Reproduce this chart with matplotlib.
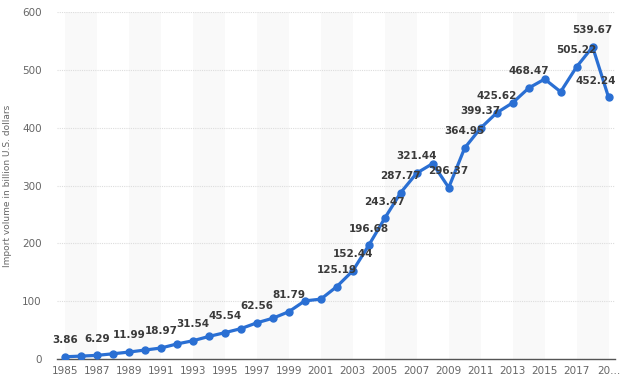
import matplotlib
matplotlib.use('Agg')
import matplotlib.pyplot as plt

YEARS = list(range(1985, 2020))
IMPORTS = [3.86, 5.0, 6.29, 9.0, 11.99, 15.5, 18.97, 26.0, 31.54, 39.0,
           45.54, 52.5, 62.56, 70.5, 81.79, 100.5, 103.5, 125.19, 152.44, 196.68,
           243.47, 287.77, 321.44, 338.0, 296.37, 364.95, 399.37, 425.62, 443.0, 468.47,
           484.0, 462.0, 505.22, 539.67, 452.24]
# years whose value is printed above the point
LABELLED = [1985, 1987, 1989, 1991, 1993, 1995, 1997, 1999, 2002, 2003, 2004,
            2005, 2006, 2007, 2009, 2010, 2011, 2012, 2014, 2017, 2018, 2019]
TICK_YEARS = list(range(1985, 2020, 2))
TICK_LABELS = [str(y) for y in TICK_YEARS[:-1]] + ['20...']

BLUE = '#2a6fd3'
GREY = '#666666'

fig = plt.figure(figsize=(6.25, 3.88), dpi=100)
ax = fig.add_axes([57 / 625, 1 - 359 / 388, 558 / 625, 347 / 388])

# alternating background columns
for start in range(1985, 2020, 4):
    ax.axvspan(start, start + 2, color='#f9f9f9', zorder=0, lw=0)

ax.plot(YEARS, IMPORTS, color=BLUE, lw=2.3, marker='o', ms=5, zorder=3)

for year, val in zip(YEARS, IMPORTS):
    if year not in LABELLED:
        continue
    dx = -9 if year == 2019 else 0
    ax.annotate(f'{val:.2f}', (year, val), xytext=(dx, 12), textcoords='offset points',
                ha='center', va='center', fontsize=7.5, fontweight='bold',
                color='#3a3a3a', zorder=4)

ax.set_xlim(1984.5, 2019.4)
ax.set_ylim(0, 600)
ax.set_yticks(range(0, 601, 100))
ax.set_xticks(TICK_YEARS)
ax.set_xticklabels(TICK_LABELS)
ax.tick_params(axis='both', length=0, labelsize=7.5, colors=GREY)
ax.tick_params(axis='y', pad=11)
ax.tick_params(axis='x', pad=5)

ax.grid(axis='y', color='#dddddd', lw=0.8, ls=(0, (1, 1)))
ax.set_axisbelow(True)
for side in ['top', 'right', 'left']:
    ax.spines[side].set_visible(False)
ax.spines['bottom'].set_color('#555555')
ax.spines['bottom'].set_linewidth(1.0)

ax.set_ylabel('Import volume in billion U.S. dollars', fontsize=6.5, color=GREY)
ax.yaxis.set_label_coords(-0.081, 0.5)

fig.savefig('out.png', dpi=100)
